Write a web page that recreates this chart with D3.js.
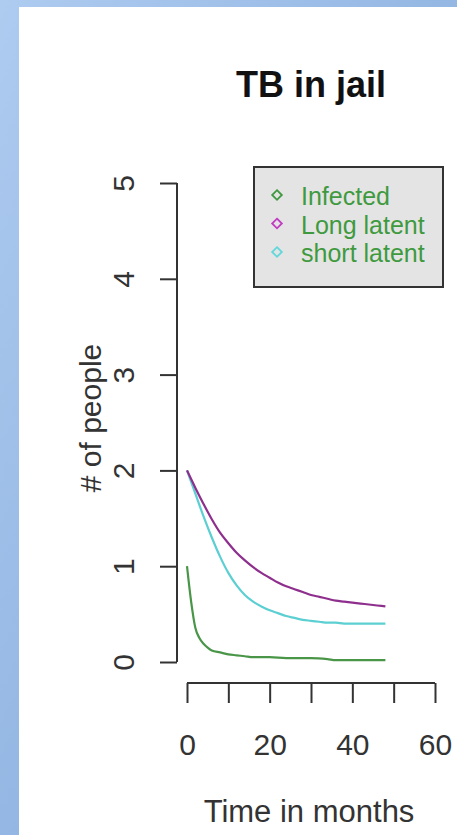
<!DOCTYPE html>
<html>
<head>
<meta charset="utf-8">
<script src="https://cdn.jsdelivr.net/npm/d3@7"></script>
<style>
  body { margin: 0; padding: 0; overflow: hidden; }
  svg { display: block; }
  text { font-family: "Liberation Sans", Arial, sans-serif; }
</style>
</head>
<body>
<svg id="board" width="457" height="835"></svg>
<script>
// data
var months = [0, 2, 4, 6, 8, 10, 12, 14, 16, 18, 20, 22, 24, 26, 28, 30, 32, 34, 36, 38, 40, 42, 44, 46, 48];
var longLatent = [2.00, 1.82, 1.65, 1.49, 1.35, 1.24, 1.14, 1.06, 0.99, 0.93, 0.88, 0.83, 0.79, 0.76, 0.73, 0.70, 0.68, 0.66, 0.64, 0.63, 0.62, 0.61, 0.60, 0.59, 0.58];
var shortLatent = [2.00, 1.76, 1.52, 1.30, 1.10, 0.93, 0.80, 0.70, 0.63, 0.58, 0.54, 0.51, 0.48, 0.46, 0.44, 0.43, 0.42, 0.41, 0.41, 0.40, 0.40, 0.40, 0.40, 0.40, 0.40];
var infMonths = [0, 1, 2, 3, 4, 5, 6, 8, 10, 12, 14, 16, 20, 24, 30, 34, 36, 40, 44, 48];
var infected = [1.00, 0.63, 0.36, 0.25, 0.19, 0.15, 0.12, 0.10, 0.08, 0.07, 0.06, 0.05, 0.05, 0.04, 0.04, 0.03, 0.02, 0.02, 0.02, 0.02];

var xTicks = [0, 10, 20, 30, 40, 50, 60];
var xLabels = [0, 20, 40, 60];
var yTicks = [0, 1, 2, 3, 4, 5];
var legendNames = ["Infected", "Long latent", "short latent"];
var legendColors = ["#3f9a3f", "#c23bc2", "#62d8dc"];
var lineColors = ["#4a9648", "#8e2f8e", "#5ccfd2"];

var svg = d3.select("#board");

// blue frame behind the white panel
var defs = svg.append("defs");
var grad = defs.append("linearGradient").attr("id", "frame")
  .attr("x1", "0").attr("y1", "0").attr("x2", "1").attr("y2", "1");
grad.append("stop").attr("offset", "0").attr("stop-color", "#aecbf0");
grad.append("stop").attr("offset", "1").attr("stop-color", "#7aa3d6");
svg.append("rect").attr("width", 457).attr("height", 835).attr("fill", "url(#frame)");
svg.append("rect").attr("x", 19).attr("y", 7).attr("width", 438).attr("height", 828).attr("fill", "#fff");

var x = d3.scaleLinear().domain([0, 60]).range([187, 435]);
var y = d3.scaleLinear().domain([0, 5]).range([662, 183]);

// y axis (R style, rotated labels)
var yAxis = svg.append("g").attr("transform", "translate(177,0)")
  .call(d3.axisLeft(y).tickValues(yTicks).tickSize(17).tickFormat(""));
yAxis.selectAll("path, line").attr("stroke", "#333").attr("stroke-width", 2);
yAxis.select(".domain").attr("d", "M0," + y(0) + "V" + y(5));
yAxis.selectAll(".tick").append("text")
  .attr("transform", "translate(-43,0) rotate(-90)")
  .attr("text-anchor", "middle")
  .attr("fill", "#333")
  .attr("font-size", 30)
  .text(function(d) { return d; });

// x axis
var xAxis = svg.append("g").attr("transform", "translate(0,683)")
  .call(d3.axisBottom(x).tickValues(xTicks).tickSize(20).tickFormat(""));
xAxis.selectAll("path, line").attr("stroke", "#333").attr("stroke-width", 2);
xAxis.select(".domain").attr("d", "M" + x(0) + ",0H" + x(60));
xAxis.selectAll(".tick").filter(function(d) { return xLabels.indexOf(d) >= 0; })
  .append("text")
  .attr("y", 72)
  .attr("text-anchor", "middle")
  .attr("fill", "#333")
  .attr("font-size", 30)
  .text(function(d) { return d; });

// curves
var series = [
  { t: infMonths, v: infected },
  { t: months, v: longLatent },
  { t: months, v: shortLatent }
];
var line = d3.line()
  .x(function(d) { return x(d[0]); })
  .y(function(d) { return y(d[1]); })
  .curve(d3.curveMonotoneX);

// draw cyan first so purple sits on top like the picture
[2, 0, 1].forEach(function(i) {
  var s = series[i];
  var pts = s.t.map(function(t, j) { return [t, s.v[j]]; });
  svg.append("path")
    .attr("d", line(pts))
    .attr("fill", "none")
    .attr("stroke", lineColors[i])
    .attr("stroke-width", 2.2);
});

// titles
svg.append("text")
  .attr("x", 311).attr("y", 97)
  .attr("text-anchor", "middle")
  .attr("font-size", 36).attr("font-weight", "bold")
  .attr("fill", "#111")
  .text("TB in jail");

svg.append("text")
  .attr("x", 309).attr("y", 822)
  .attr("text-anchor", "middle")
  .attr("font-size", 31)
  .attr("fill", "#333")
  .text("Time in months");

svg.append("text")
  .attr("transform", "translate(101,418) rotate(-90)")
  .attr("text-anchor", "middle")
  .attr("font-size", 30)
  .attr("fill", "#333")
  .text("# of people");

// legend
var legend = svg.append("g");
legend.append("rect")
  .attr("x", 254).attr("y", 167).attr("width", 189).attr("height", 120)
  .attr("fill", "#e4e4e4").attr("stroke", "#333").attr("stroke-width", 2);

var rows = legend.selectAll("g.row").data(legendNames).enter()
  .append("g").classed("row", true)
  .attr("transform", function(d, i) { return "translate(0," + (198 + i * 28.5) + ")"; });

rows.append("path")
  .attr("d", d3.symbol().type(d3.symbolDiamond2).size(60))
  .attr("transform", "translate(277,-3)")
  .attr("fill", "none")
  .attr("stroke", function(d, i) { return legendColors[i]; })
  .attr("stroke-width", 1.8);

rows.append("text")
  .attr("x", 301).attr("y", 7)
  .attr("font-size", 25)
  .attr("fill", "#3f9a3f")
  .text(function(d) { return d; });
</script>
</body>
</html>
